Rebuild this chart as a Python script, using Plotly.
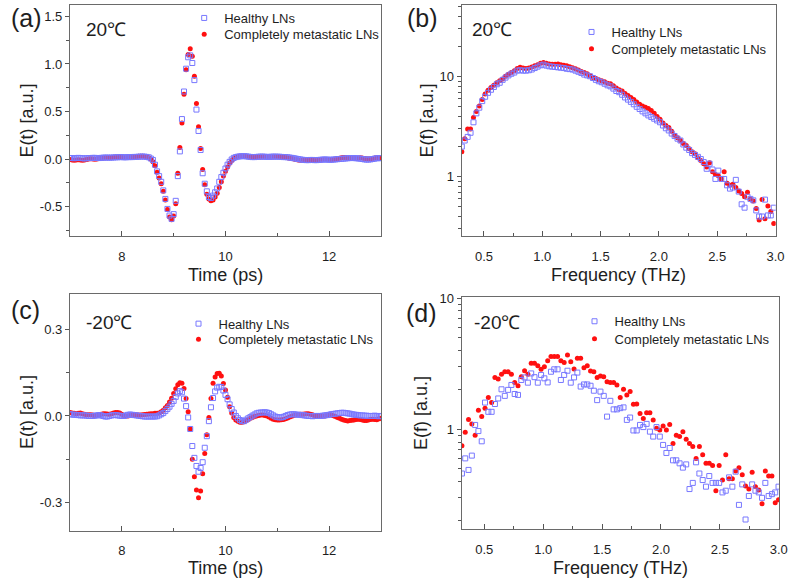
import plotly.graph_objects as go

W, H = 788, 583

# sampling grids: time in ps, frequency in THz
t_start, t_step = 7.0, 0.04
fb_start, fb_step = 0.31, 0.025
fd_start, fd_step = 0.31, 0.028

# (a) time domain, 20 C
healthy_a = [
    0.01, 0.01, 0.008, 0.01, 0.012, 0.01, 0.008, 0.006, 0.008, 0.01,
    0.01, 0.012, 0.012, 0.01, 0.01, 0.012, 0.014, 0.015, 0.015, 0.014,
    0.015, 0.016, 0.018, 0.018, 0.02, 0.02, 0.018, 0.018, 0.02, 0.02,
    0.02, 0.022, 0.022, 0.024, 0.025, 0.026, 0.025, 0.022, 0.018, 0.005,
    -0.01, -0.06, -0.13, -0.18, -0.24, -0.33, -0.42, -0.525, -0.595, -0.63,
    -0.58, -0.44, -0.18, 0.08, 0.42, 0.71, 0.95, 1.07, 1.09, 1.01,
    0.83, 0.52, 0.295, 0.095, -0.15, -0.26, -0.34, -0.40, -0.41, -0.385,
    -0.35, -0.31, -0.24, -0.19, -0.145, -0.10, -0.06, -0.03, -0.005, 0.012,
    0.02, 0.025, 0.028, 0.03, 0.03, 0.028, 0.025, 0.022, 0.02, 0.02,
    0.022, 0.024, 0.025, 0.025, 0.024, 0.022, 0.022, 0.024, 0.025, 0.025,
    0.024, 0.024, 0.022, 0.02, 0.02, 0.018, 0.015, 0.012, 0.008, 0.004,
    0.0, -0.004, -0.008, -0.01, -0.012, -0.012, -0.01, -0.01, -0.012, -0.012,
    -0.01, -0.008, -0.006, -0.005, -0.006, -0.008, -0.008, -0.006, -0.004, -0.002,
    0.0, 0.002, 0.004, 0.006, 0.008, 0.01, 0.01, 0.01, 0.008, 0.006,
    0.004, 0.0, -0.004, -0.006, -0.006, -0.004, 0.0, 0.004, 0.008, 0.01, 0.008,
]
metastatic_a = [
    -0.005, -0.01, -0.012, -0.01, -0.008, -0.01, -0.012, -0.01, -0.005, 0.0,
    0.002, 0.0, -0.002, 0.0, 0.004, 0.008, 0.01, 0.012, 0.014, 0.015,
    0.016, 0.018, 0.02, 0.022, 0.02, 0.018, 0.016, 0.018, 0.02, 0.022,
    0.024, 0.025, 0.026, 0.028, 0.03, 0.028, 0.025, 0.02, 0.012, 0.0,
    -0.03, -0.07, -0.14, -0.2, -0.26, -0.34, -0.43, -0.53, -0.61, -0.64,
    -0.60, -0.47, -0.15, 0.12, 0.38, 0.68, 0.94, 1.10, 1.16, 1.08,
    0.87, 0.585, 0.34, 0.11, -0.11, -0.27, -0.37, -0.42, -0.44, -0.43,
    -0.40, -0.36, -0.30, -0.24, -0.18, -0.13, -0.085, -0.045, -0.015, 0.005,
    0.018, 0.025, 0.03, 0.032, 0.03, 0.028, 0.024, 0.02, 0.018, 0.016,
    0.018, 0.02, 0.022, 0.024, 0.026, 0.026, 0.024, 0.022, 0.022, 0.024,
    0.025, 0.026, 0.024, 0.02, 0.016, 0.012, 0.008, 0.004, 0.0, -0.005,
    -0.01, -0.012, -0.014, -0.015, -0.014, -0.012, -0.01, -0.012, -0.015, -0.016,
    -0.014, -0.01, -0.006, -0.004, -0.004, -0.006, -0.008, -0.004, 0.0, 0.004,
    0.008, 0.012, 0.015, 0.016, 0.014, 0.01, 0.006, 0.004, 0.006, 0.01,
    0.012, 0.01, 0.006, 0.002, 0.0, 0.002, 0.006, 0.01, 0.012, 0.01, 0.008,
]

# (b) spectrum, 20 C
healthy_b = [
    2.0, 2.3, 2.5, 2.75, 3.5, 4.3, 4.9, 5.7, 6.3, 6.9,
    7.4, 7.9, 8.4, 8.7, 9.3, 9.8, 10.3, 10.7, 11.0, 11.5,
    11.6, 11.5, 11.5, 11.6, 11.8, 12.2, 12.6, 13.0, 13.2, 12.9,
    12.7, 12.6, 12.5, 12.4, 12.3, 12.2, 12.0, 11.9, 11.8, 11.5,
    11.2, 10.9, 10.5, 10.3, 10.1, 9.7, 9.3, 9.0, 8.8, 8.5,
    8.2, 8.0, 7.6, 7.2, 7.0, 6.6, 6.2, 5.9, 5.6, 5.3,
    5.0, 4.75, 4.5, 4.3, 4.1, 3.95, 3.8, 3.65, 3.5, 3.25,
    3.05, 2.9, 2.7, 2.55, 2.4, 2.3, 2.1, 1.95, 1.85, 1.72,
    1.65, 1.58, 1.5, 1.4, 1.2, 1.35, 1.18, 0.95, 1.15, 0.95,
    0.95, 0.82, 0.76, 0.78, 0.93, 0.71, 0.53, 0.49, 0.63, 0.6,
    0.58, 0.46, 0.40, 0.40, 0.59, 0.41, 0.41, 0.49,
]
metastatic_b = [
    1.78, 2.4, 3.0, 3.0, 3.9, 4.5, 5.1, 5.9, 6.7, 7.3,
    7.8, 8.2, 8.7, 9.1, 9.5, 10.1, 10.6, 11.0, 11.5, 12.1,
    12.4, 12.2, 12.1, 12.2, 12.5, 12.9, 13.2, 13.6, 13.9, 13.6,
    13.4, 13.3, 13.3, 13.4, 13.2, 13.0, 12.9, 12.6, 12.3, 12.0,
    11.7, 11.3, 11.0, 10.7, 10.2, 9.8, 9.6, 9.3, 9.1, 8.9,
    8.6, 8.5, 8.1, 7.7, 7.4, 7.2, 6.8, 6.5, 6.2, 5.9,
    5.6, 5.3, 5.1, 4.95, 4.8, 4.6, 4.3, 4.0, 3.75, 3.45,
    3.25, 3.1, 2.85, 2.6, 2.45, 2.3, 2.15, 2.05, 1.9, 1.78,
    1.7, 1.55, 1.45, 1.35, 1.25, 1.38, 1.12, 1.05, 1.02, 0.95,
    1.12, 0.86, 0.82, 0.84, 0.78, 0.72, 0.68, 0.63, 0.7, 0.6,
    0.57, 0.48, 0.37, 0.59, 0.38, 0.51, 0.45, 0.34,
]

# (c) time domain, -20 C
healthy_c = [
    0.006, 0.005, 0.004, 0.004, 0.003, 0.002, 0.002, 0.002, 0.001, 0.0,
    0.0, 0.0, 0.001, 0.002, 0.003, 0.002, 0.0, -0.002, -0.002, 0.0,
    0.002, 0.003, 0.003, 0.002, 0.001, 0.0, 0.0, 0.002, 0.004, 0.005,
    0.004, 0.003, 0.002, 0.001, 0.0, -0.001, -0.002, -0.002, -0.002, -0.002,
    -0.002, -0.002, -0.001, 0.002, 0.006, 0.01, 0.017, 0.024, 0.032, 0.042,
    0.052, 0.066, 0.078, 0.086, 0.082, 0.06, 0.034, -0.005, -0.045, -0.104,
    -0.145, -0.173, -0.193, -0.18, -0.16, -0.11, -0.07, -0.018, 0.03, 0.062,
    0.085, 0.098, 0.101, 0.10, 0.088, 0.073, 0.058, 0.04, 0.024, 0.012,
    0.0, -0.008, -0.014, -0.018, -0.018, -0.013, -0.008, -0.004, 0.001, 0.005,
    0.009, 0.011, 0.012, 0.012, 0.013, 0.012, 0.01, 0.006, 0.002, -0.002,
    -0.004, -0.005, -0.005, -0.003, 0.0, 0.003, 0.005, 0.006, 0.006, 0.005,
    0.004, 0.004, 0.003, 0.002, 0.001, 0.0, 0.0, -0.001, 0.0, 0.0,
    0.0, 0.0, 0.001, 0.002, 0.003, 0.004, 0.006, 0.007, 0.008, 0.009,
    0.01, 0.011, 0.011, 0.01, 0.009, 0.008, 0.006, 0.005, 0.004, 0.003,
    0.002, 0.002, 0.001, 0.001, 0.0, 0.0, 0.0, 0.001, 0.0, -0.001, 0.0,
]
metastatic_c = [
    0.012, 0.01, 0.009, 0.008, 0.009, 0.01, 0.008, 0.006, 0.004, 0.004,
    0.004, 0.003, 0.002, 0.002, 0.004, 0.006, 0.008, 0.008, 0.007, 0.006,
    0.008, 0.01, 0.012, 0.012, 0.01, 0.006, 0.002, 0.0, 0.0, 0.002,
    0.003, 0.004, 0.004, 0.003, 0.003, 0.004, 0.005, 0.006, 0.007, 0.008,
    0.008, 0.009, 0.009, 0.01, 0.015, 0.02, 0.028, 0.036, 0.048, 0.061,
    0.078, 0.094, 0.108, 0.115, 0.113, 0.095, 0.06, 0.015, -0.045, -0.15,
    -0.21, -0.256, -0.283, -0.26, -0.2, -0.13, -0.065, -0.005, 0.06, 0.113,
    0.135, 0.147, 0.148, 0.138, 0.112, 0.09, 0.065, 0.032, 0.01, -0.005,
    -0.014, -0.018, -0.022, -0.022, -0.02, -0.016, -0.012, -0.008, -0.005, -0.002,
    0.0, 0.002, 0.003, 0.003, 0.002, 0.0, -0.004, -0.008, -0.011, -0.013,
    -0.014, -0.014, -0.013, -0.012, -0.01, -0.007, -0.004, -0.001, 0.002, 0.004,
    0.005, 0.006, 0.006, 0.007, 0.008, 0.008, 0.006, 0.004, 0.002, 0.001,
    0.0, -0.001, 0.0, 0.0, 0.002, 0.004, 0.003, 0.001, -0.002, -0.005,
    -0.008, -0.011, -0.014, -0.016, -0.017, -0.016, -0.015, -0.014, -0.012, -0.011,
    -0.012, -0.014, -0.016, -0.016, -0.014, -0.012, -0.011, -0.012, -0.013, -0.01, -0.008,
]

# (d) spectrum, -20 C
healthy_d = [
    0.46, 0.60, 0.49, 0.63, 1.08, 0.97, 0.81, 1.6, 1.36, 1.36,
    1.56, 1.72, 2.02, 1.8, 2.0, 2.18, 1.86, 1.83, 2.38, 2.49,
    2.27, 2.67, 2.5, 2.27, 2.6, 2.45, 2.28, 2.75, 2.87, 2.87,
    2.38, 2.6, 2.8, 2.27, 2.49, 2.71, 2.12, 2.2, 2.2, 2.15,
    1.97, 1.67, 1.94, 1.8, 1.25, 1.65, 1.42, 1.42, 1.45, 1.47,
    1.18, 1.23, 0.98, 0.98, 1.08, 1.04, 1.1, 0.96, 0.88, 1.04,
    0.88, 0.76, 0.66, 0.72, 0.58, 0.58, 0.55, 0.51, 0.54, 0.35,
    0.39, 0.56, 0.46, 0.41, 0.365, 0.44, 0.39, 0.39, 0.39, 0.33,
    0.34, 0.43, 0.365, 0.475, 0.265, 0.38, 0.205, 0.31, 0.38, 0.34,
    0.33, 0.30, 0.39, 0.31, 0.32, 0.33, 0.365,
]
metastatic_d = [
    0.75, 0.95, 1.19, 1.1, 0.9, 1.4, 1.25, 1.45, 1.75, 1.6,
    2.49, 2.42, 2.63, 2.75, 2.75, 2.63, 2.28, 2.15, 2.52, 2.8,
    2.63, 3.19, 3.19, 3.05, 2.87, 3.0, 3.34, 3.59, 3.59, 3.59,
    3.34, 3.23, 3.69, 3.28, 2.88, 3.48, 3.48, 2.95, 3.05, 2.79,
    2.75, 2.49, 2.55, 2.52, 2.31, 2.28, 2.28, 2.18, 1.75, 2.02,
    1.83, 1.94, 1.55, 1.56, 1.32, 1.21, 1.34, 1.34, 1.18, 1.02,
    0.99, 1.06, 0.99, 1.09, 0.78, 0.9, 0.88, 0.96, 0.84, 0.78,
    0.74, 0.6, 0.74, 0.64, 0.55, 0.55, 0.53, 0.34, 0.53, 0.41,
    0.64, 0.42, 0.42, 0.48, 0.51, 0.45, 0.37, 0.35, 0.47, 0.365,
    0.345, 0.27, 0.48, 0.44, 0.44, 0.275, 0.29,
]

panel_letters = ["(a)", "(b)", "(c)", "(d)"]
temperatures = ["20℃", "20℃", "-20℃", "-20℃"]
series_names = ["Healthy LNs", "Completely metastatic LNs"]

time_ticks = [8, 10, 12]
time_minor = [7, 9, 11, 13]
a_yticks = [-0.5, 0.0, 0.5, 1.0, 1.5]
a_yticktext = ["-0.5", "0.0", "0.5", "1.0", "1.5"]
a_yminor = [-0.75, -0.25, 0.25, 0.75, 1.25]
c_yticks = [-0.3, 0.0, 0.3]
c_yticktext = ["-0.3", "0.0", "0.3"]
c_yminor = [-0.15, 0.15]
freq_ticks = [0.5, 1.0, 1.5, 2.0, 2.5, 3.0]
freq_ticktext = ["0.5", "1.0", "1.5", "2.0", "2.5", "3.0"]
freq_minor = [0.75, 1.25, 1.75, 2.25, 2.75]
log_ticks = [1, 10]
log_minor = [0.2, 0.3, 0.4, 0.5, 0.6, 0.7, 0.8, 0.9, 2, 3, 4, 5, 6, 7, 8, 9, 20, 30, 40, 50]

BLUE = "#7878ff"
RED = "#ff1010"
FONT = "Liberation Sans, Arial, sans-serif"
INK = "#1e1e1e"


def px_x(p):
    return p / W


def px_y(p):
    return 1 - p / H


fig = go.Figure()

# (xaxis, yaxis, healthy data, metastatic data, x0, dx, legend text x, legend row centres)
panels = [
    ("x", "y", healthy_a, metastatic_a, t_start, t_step, 221.7, (16, 32.3)),
    ("x2", "y2", healthy_b, metastatic_b, fb_start, fb_step, 609, (30, 46.7)),
    ("x3", "y3", healthy_c, metastatic_c, t_start, t_step, 216, (321.7, 337.3)),
    ("x4", "y4", healthy_d, metastatic_d, fd_start, fd_step, 612, (319.3, 336.7)),
]

legend_style = dict(xanchor="left", yanchor="top", bgcolor="rgba(0,0,0,0)",
                    borderwidth=0, font=dict(size=13, color=INK, family=FONT),
                    itemsizing="trace")
legends = {}

for k, (xa, ya, healthy, metastatic, x0, dx, lx, rows) in enumerate(panels):
    lg_h = "legend" if k == 0 else f"legend{2 * k + 1}"
    lg_m = f"legend{2 * k + 2}"
    legends[lg_h] = dict(legend_style, x=px_x(lx - 37.5), y=px_y(rows[0] - 13))
    legends[lg_m] = dict(legend_style, x=px_x(lx - 37.5), y=px_y(rows[1] - 13))
    fig.add_trace(go.Scatter(
        y=metastatic, x0=x0, dx=dx, xaxis=xa, yaxis=ya, mode="markers",
        name=series_names[1], legend=lg_m,
        marker=dict(symbol="circle", size=5, color=RED, line=dict(width=0)),
    ))
    fig.add_trace(go.Scatter(
        y=healthy, x0=x0, dx=dx, xaxis=xa, yaxis=ya, mode="markers",
        name=series_names[0], legend=lg_h,
        marker=dict(symbol="square-open", size=5, color=BLUE, line=dict(width=1)),
    ))

frame = dict(showline=True, linecolor="#6a6a6a", linewidth=1.3, mirror=True,
             showgrid=False, zeroline=False, tickcolor="#555", tickwidth=1,
             automargin=False,
             tickfont=dict(size=13, color=INK, family=FONT))


def xaxis(dom, rng, vals, text, minor, anchor):
    return dict(frame, domain=dom, range=rng, anchor=anchor, tickmode="array",
                tickvals=vals, ticktext=text, ticks="inside", ticklen=5,
                ticklabelstandoff=8,
                minor=dict(ticks="inside", ticklen=3, tickvals=minor, tickcolor="#555"))


def yaxis(dom, rng, vals, text, minor, anchor, log=False):
    d = dict(frame, domain=dom, range=rng, anchor=anchor, tickmode="array",
             tickvals=vals, ticktext=text, ticks="outside", ticklen=4,
             minor=dict(ticks="outside", ticklen=2.5, tickvals=minor, tickcolor="#555"))
    if log:
        d["type"] = "log"
    return d


xa_dom = [px_x(70), px_x(381)]
xb_dom = [px_x(461.7), px_x(775.7)]
xd_dom = [px_x(461.7), px_x(779)]
top_dom = [px_y(236), px_y(5)]
c_dom = [px_y(530.7), px_y(294)]
d_dom = [px_y(529.3), px_y(296.7)]

fig.update_layout(
    template="none",
    width=W, height=H,
    margin=dict(l=0, r=0, t=0, b=0),
    paper_bgcolor="white", plot_bgcolor="white",
    font=dict(family=FONT, color=INK),
    xaxis=xaxis(xa_dom, [7, 13.001], time_ticks, [str(v) for v in time_ticks], time_minor, "y"),
    yaxis=yaxis(top_dom, [-0.81, 1.62], a_yticks, a_yticktext, a_yminor, "x"),
    xaxis2=xaxis(xb_dom, [0.309, 3.002], freq_ticks, freq_ticktext, freq_minor, "y2"),
    yaxis2=yaxis(top_dom, [-0.593, 1.717], log_ticks, ["1", "10"], log_minor, "x2", log=True),
    xaxis3=xaxis(xa_dom, [7, 13.001], time_ticks, [str(v) for v in time_ticks], time_minor, "y3"),
    yaxis3=yaxis(c_dom, [-0.397, 0.422], c_yticks, c_yticktext, c_yminor, "x3"),
    xaxis4=xaxis(xd_dom, [0.308, 3.002], freq_ticks, freq_ticktext, freq_minor, "y4"),
    yaxis4=yaxis(d_dom, [-0.763, 1.012], log_ticks, ["1", "10"], log_minor, "x4", log=True),
    showlegend=True,
    **legends,
)

# axis titles
titles = [
    ("Time (ps)", 225.5, 274.5, 0), ("Frequency (THz)", 618.7, 274.5, 0),
    ("Time (ps)", 225.5, 568, 0), ("Frequency (THz)", 620.3, 568, 0),
    ("E(t) [a.u.]", 26, 120.5, -90), ("E(f) [a.u.]", 426, 120.5, -90),
    ("E(t) [a.u.]", 27, 412, -90), ("E(f) [a.u.]", 421, 413, -90),
]
for text, x, y, ang in titles:
    fig.add_annotation(text=text, x=px_x(x), y=px_y(y), xref="paper", yref="paper",
                       showarrow=False, textangle=ang, xanchor="center", yanchor="middle",
                       font=dict(size=18, color=INK, family=FONT))

letter_pos = [(26, 18), (422, 18), (25, 310), (421.5, 313)]
for text, (x, y) in zip(panel_letters, letter_pos):
    fig.add_annotation(text=text, x=px_x(x), y=px_y(y), xref="paper", yref="paper",
                       showarrow=False, xanchor="center", yanchor="middle",
                       font=dict(size=25, color=INK, family=FONT))

temp_pos = [(106, 29.5), (492, 29.5), (109, 322.5), (496.5, 322.5)]
for text, (x, y) in zip(temperatures, temp_pos):
    fig.add_annotation(text=text, x=px_x(x), y=px_y(y), xref="paper", yref="paper",
                       showarrow=False, xanchor="center", yanchor="middle",
                       font=dict(size=19, color=INK, family=FONT))

# the page keeps the browser's default body margin otherwise
fig.write_html("out.html", config={"displayModeBar": False},
               post_script="document.body.style.margin = '0';")
